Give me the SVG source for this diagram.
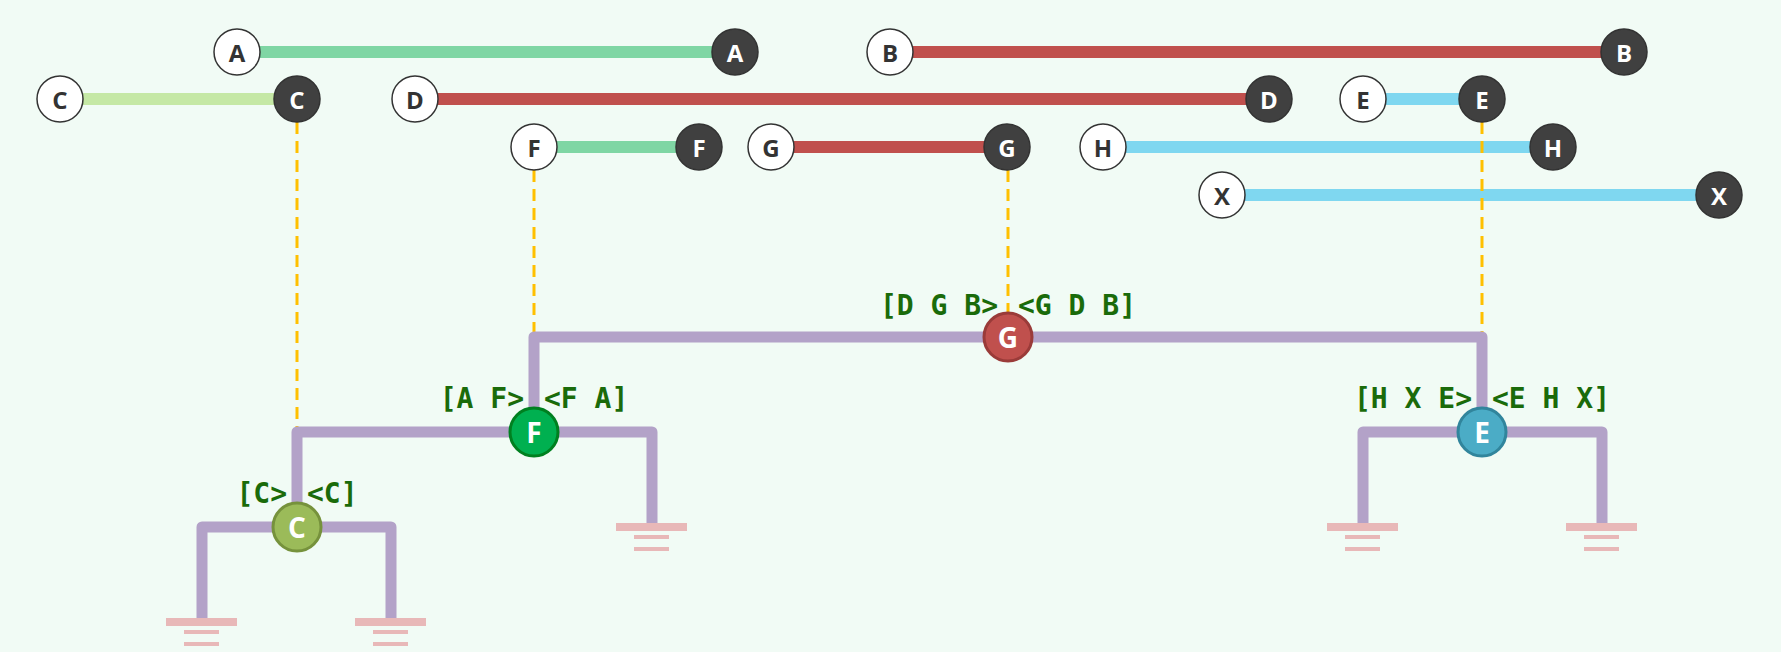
<svg xmlns="http://www.w3.org/2000/svg" width="1781" height="652" viewBox="0 0 1781 652">
<style>
.w{fill:#fff;stroke:#333;stroke-width:1.5}
.k{fill:#404040;stroke:#333;stroke-width:1.5}
.tw{font:bold 24px "Open Sans","Noto Sans",sans-serif;fill:#333;text-anchor:middle;dominant-baseline:central}
.tk{font:bold 24px "Open Sans","Noto Sans",sans-serif;fill:#fff;text-anchor:middle;dominant-baseline:central}
.tn{font:bold 28px "Open Sans","Noto Sans",sans-serif;fill:#fff;text-anchor:middle;dominant-baseline:central}
.seg{stroke-width:12;fill:none}
.tree{stroke:#b3a2c8;stroke-width:11;fill:none;stroke-linejoin:round}
.dash{stroke:#ffc000;stroke-width:3;stroke-dasharray:12 7;fill:none}
.lab{font:bold 28px "DejaVu Sans Mono","Liberation Mono",monospace;fill:#1a6b0a}
.gnd{fill:#e8b8b8}
</style>
<rect width="1781" height="652" fill="#f1fbf5"/>
<g id="connectors">
<path class="seg" stroke="#7fd6a4" d="M237 52H735"/>
<path class="seg" stroke="#c0504d" d="M890 52H1624"/>
<path class="seg" stroke="#c5e8a5" d="M60 99H297"/>
<path class="seg" stroke="#c0504d" d="M415 99H1269"/>
<path class="seg" stroke="#7fd7f0" d="M1363 99H1482"/>
<path class="seg" stroke="#7fd6a4" d="M534 147H699"/>
<path class="seg" stroke="#c0504d" d="M771 147H1007"/>
<path class="seg" stroke="#7fd7f0" d="M1103 147H1553"/>
<path class="seg" stroke="#7fd7f0" d="M1222 195H1719"/>
<path class="dash" d="M297 122V432M534 170V337M1008 170V337M1482 122V432"/>
<path class="tree" d="M534 432V337H1482V432"/>
<path class="tree" d="M297 527V432H652V527"/>
<path class="tree" d="M202 622V527H391V622"/>
<path class="tree" d="M1363 527V432H1602V527"/>
</g>
<g id="grounds">
<g class="gnd"><rect x="166" y="618" width="71" height="8"/><rect x="184" y="630" width="35" height="4"/><rect x="184" y="642" width="35" height="4"/></g>
<g class="gnd"><rect x="355" y="618" width="71" height="8"/><rect x="373" y="630" width="35" height="4"/><rect x="373" y="642" width="35" height="4"/></g>
<g class="gnd"><rect x="616" y="523" width="71" height="8"/><rect x="634" y="535" width="35" height="4"/><rect x="634" y="547" width="35" height="4"/></g>
<g class="gnd"><rect x="1327" y="523" width="71" height="8"/><rect x="1345" y="535" width="35" height="4"/><rect x="1345" y="547" width="35" height="4"/></g>
<g class="gnd"><rect x="1566" y="523" width="71" height="8"/><rect x="1584" y="535" width="35" height="4"/><rect x="1584" y="547" width="35" height="4"/></g>
</g>
<g id="nA1"><circle class="w" cx="237" cy="52" r="23"/><text class="tw" x="237" y="52">A</text></g>
<g id="nA2"><circle class="k" cx="735" cy="52" r="23"/><text class="tk" x="735" y="52">A</text></g>
<g id="nB1"><circle class="w" cx="890" cy="52" r="23"/><text class="tw" x="890" y="52">B</text></g>
<g id="nB2"><circle class="k" cx="1624" cy="52" r="23"/><text class="tk" x="1624" y="52">B</text></g>
<g id="nC1"><circle class="w" cx="60" cy="99" r="23"/><text class="tw" x="60" y="99">C</text></g>
<g id="nC2"><circle class="k" cx="297" cy="99" r="23"/><text class="tk" x="297" y="99">C</text></g>
<g id="nD1"><circle class="w" cx="415" cy="99" r="23"/><text class="tw" x="415" y="99">D</text></g>
<g id="nD2"><circle class="k" cx="1269" cy="99" r="23"/><text class="tk" x="1269" y="99">D</text></g>
<g id="nE1"><circle class="w" cx="1363" cy="99" r="23"/><text class="tw" x="1363" y="99">E</text></g>
<g id="nE2"><circle class="k" cx="1482" cy="99" r="23"/><text class="tk" x="1482" y="99">E</text></g>
<g id="nF1"><circle class="w" cx="534" cy="147" r="23"/><text class="tw" x="534" y="147">F</text></g>
<g id="nF2"><circle class="k" cx="699" cy="147" r="23"/><text class="tk" x="699" y="147">F</text></g>
<g id="nG1"><circle class="w" cx="771" cy="147" r="23"/><text class="tw" x="771" y="147">G</text></g>
<g id="nG2"><circle class="k" cx="1007" cy="147" r="23"/><text class="tk" x="1007" y="147">G</text></g>
<g id="nH1"><circle class="w" cx="1103" cy="147" r="23"/><text class="tw" x="1103" y="147">H</text></g>
<g id="nH2"><circle class="k" cx="1553" cy="147" r="23"/><text class="tk" x="1553" y="147">H</text></g>
<g id="nX1"><circle class="w" cx="1222" cy="195" r="23"/><text class="tw" x="1222" y="195">X</text></g>
<g id="nX2"><circle class="k" cx="1719" cy="195" r="23"/><text class="tk" x="1719" y="195">X</text></g>
<g id="tG"><circle cx="1008" cy="337" r="24" fill="#c0504d" stroke="#9a3b39" stroke-width="3"/><text class="tn" x="1008" y="337">G</text>
<text class="lab" x="998" y="315" text-anchor="end">[D G B&gt;</text><text class="lab" x="1018" y="315">&lt;G D B]</text></g>
<g id="tF"><circle cx="534" cy="432" r="24" fill="#00b050" stroke="#008020" stroke-width="3"/><text class="tn" x="534" y="432">F</text>
<text class="lab" x="524" y="408" text-anchor="end">[A F&gt;</text><text class="lab" x="544" y="408">&lt;F A]</text></g>
<g id="tC"><circle cx="297" cy="527" r="24" fill="#9bbb59" stroke="#76923c" stroke-width="3"/><text class="tn" x="297" y="527">C</text>
<text class="lab" x="287" y="503" text-anchor="end">[C&gt;</text><text class="lab" x="307" y="503">&lt;C]</text></g>
<g id="tE"><circle cx="1482" cy="432" r="24" fill="#4bacc6" stroke="#31859c" stroke-width="3"/><text class="tn" x="1482" y="432">E</text>
<text class="lab" x="1472" y="408" text-anchor="end">[H X E&gt;</text><text class="lab" x="1492" y="408">&lt;E H X]</text></g>
</svg>
